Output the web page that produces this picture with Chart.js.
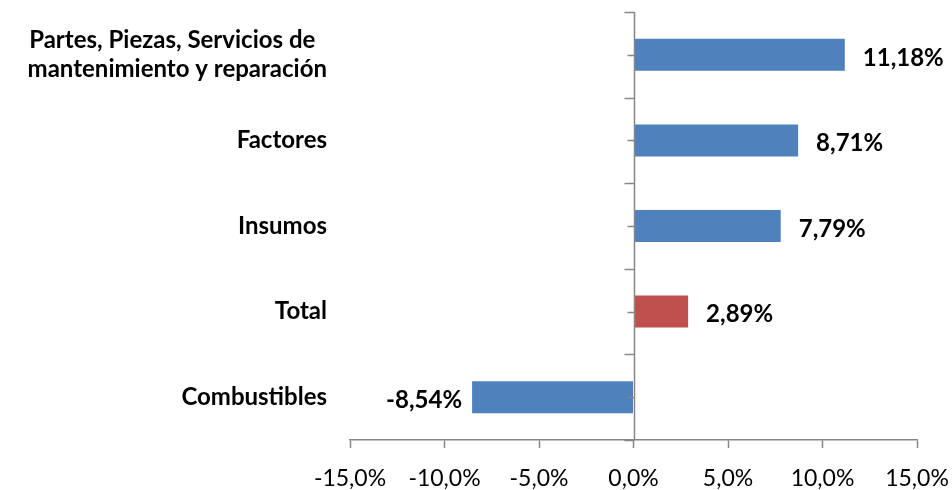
<!DOCTYPE html>
<html>
<head>
<meta charset="utf-8">
<script src="https://cdn.jsdelivr.net/npm/chart.js@4/dist/chart.umd.min.js"></script>
<style>
  html, body { margin: 0; padding: 0; background: #fff; }
</style>
</head>
<body>
<canvas id="chart" width="952" height="490"></canvas>
<script>
// data, top to bottom as in the picture
const categories = [
    ['Partes, Piezas, Servicios de\u00A0\u00A0', 'mantenimiento y reparación'],
    'Factores',
    'Insumos',
    'Total',
    'Combustibles'
];
const values = [11.18, 8.71, 7.79, 2.89, -8.54];
const xTicks = [-15, -10, -5, 0, 5, 10, 15];
const highlighted = 'Total';

const BLUE = '#4F81BD';
const RED = '#C0504D';
const AXIS = '#868686';
const FONT = 'Lato';

const fmt = (v, d) => v.toFixed(d).replace('.', ',') + '%';

// value labels next to each bar end
const valueLabels = {
    id: 'valueLabels',
    afterDatasetsDraw(chart) {
        const ctx = chart.ctx;
        const meta = chart.getDatasetMeta(0);
        ctx.save();
        ctx.font = 'bold 24px ' + FONT;
        ctx.fillStyle = '#000';
        ctx.textBaseline = 'middle';
        meta.data.forEach((bar, i) => {
            const v = values[i];
            if (v >= 0) {
                ctx.textAlign = 'left';
                ctx.fillText(fmt(v, 2), bar.x + 18, bar.y + 3);
            } else {
                ctx.textAlign = 'right';
                ctx.fillText(fmt(v, 2), bar.x - 10, bar.y + 3);
            }
        });
        ctx.restore();
    }
};

// vertical axis sits on zero, with ticks at category edges and centers
const zeroAxis = {
    id: 'zeroAxis',
    afterDatasetsDraw(chart) {
        const { ctx, chartArea } = chart;
        const x = chart.scales.x, y = chart.scales.y;
        const x0 = Math.round(x.getPixelForValue(0)) + 0.5;
        ctx.save();
        ctx.strokeStyle = AXIS;
        ctx.lineWidth = 1.5;
        ctx.beginPath();
        ctx.moveTo(x0, chartArea.top);
        ctx.lineTo(x0, chartArea.bottom);
        for (let i = 0; i <= categories.length; i++) {
            const yy = Math.round(y.getPixelForValue(i - 0.5)) + 0.5;
            ctx.moveTo(x0 - 10, yy);
            ctx.lineTo(x0, yy);
        }
        for (let i = 0; i < categories.length; i++) {
            const yy = Math.round(y.getPixelForValue(i)) + 0.5;
            ctx.moveTo(x0 - 7, yy);
            ctx.lineTo(x0, yy);
        }
        ctx.stroke();
        ctx.restore();
    }
};

new Chart(document.getElementById('chart'), {
    type: 'bar',
    data: {
        labels: categories,
        datasets: [{
            data: values,
            backgroundColor: categories.map(c => c === highlighted ? RED : BLUE),
            borderWidth: 0,
            categoryPercentage: 1,
            barPercentage: 0.374
        }]
    },
    options: {
        indexAxis: 'y',
        responsive: false,
        animation: false,
        layout: { padding: { top: 12, right: 35, left: 0, bottom: 0 } },
        plugins: {
            legend: { display: false },
            tooltip: { enabled: false }
        },
        scales: {
            x: {
                min: xTicks[0],
                max: xTicks[xTicks.length - 1],
                afterBuildTicks: s => { s.ticks = xTicks.map(v => ({ value: v })); },
                afterFit: s => {
                    s.height = 50;
                    s.paddingLeft = 0;
                    s.paddingRight = 0;
                },
                grid: {
                    drawOnChartArea: false,
                    tickLength: 8,
                    tickColor: AXIS,
                    tickWidth: 1.5
                },
                border: { color: AXIS, width: 1.5 },
                ticks: {
                    padding: 17,
                    color: '#000',
                    font: { family: FONT, size: 23 },
                    maxRotation: 0,
                    callback: v => fmt(v, 1)
                }
            },
            y: {
                afterFit: s => {
                    s.width = 350;
                    s.paddingTop = 0;
                    s.paddingBottom = 0;
                },
                grid: { display: false, drawTicks: false },
                border: { display: false },
                ticks: {
                    padding: 23,
                    color: '#000',
                    font: { family: FONT, size: 24, weight: 'bold', lineHeight: 1.2 }
                }
            }
        }
    },
    plugins: [valueLabels, zeroAxis]
});
</script>
</body>
</html>
